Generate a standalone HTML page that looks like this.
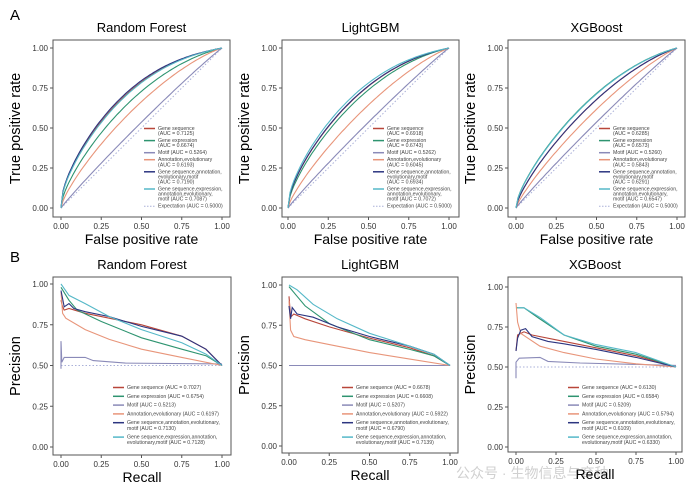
<!DOCTYPE html>
<html><head><meta charset="utf-8"><style>
html,body{margin:0;padding:0;background:#fff;}
svg{display:block;font-family:"Liberation Sans","Noto Sans CJK SC",sans-serif;}
</style></head><body>
<svg id="s" width="691" height="490" viewBox="0 0 691 490" xmlns="http://www.w3.org/2000/svg">
<rect width="691" height="490" fill="#fff"/>
<text x="10" y="20" font-size="15">A</text>
<text x="10" y="262" font-size="15">B</text>
<text x="456" y="478" font-size="14" fill="#d0d0d0">公众号 · 生物信息与育种</text>
</svg>
<script>
const S=document.getElementById('s');const NS='http://www.w3.org/2000/svg';
function el(t,a,txt){const e=document.createElementNS(NS,t);for(const k in a)e.setAttribute(k,a[k]);if(txt!==undefined)e.textContent=txt;S.appendChild(e);return e;}
const C={gs:'#b8463a',ge:'#2e9470',mo:'#8a8ab8',an:'#e8957a',nv:'#2c3580',cy:'#55b8c8',ex:'#aab0d8'};
function panel(p){
 const X=v=>p.x0+v*(p.x1-p.x0), Y=v=>p.y0-v*(p.y0-p.y1);
 el('rect',{x:p.bl,y:p.bt,width:p.br-p.bl,height:p.bb-p.bt,fill:'none',stroke:'#555','stroke-width':1});
 el('text',{x:(p.bl+p.br)/2,y:p.bt-8,'font-size':13,'text-anchor':'middle'},p.title);
 [0,.25,.5,.75,1].forEach(v=>{
  el('line',{x1:p.bl-3,x2:p.bl,y1:Y(v),y2:Y(v),stroke:'#555'});
  el('text',{x:p.bl-5,y:Y(v)+3,'font-size':8,'text-anchor':'end',fill:'#333'},v.toFixed(2));
  el('line',{x1:X(v),x2:X(v),y1:p.bb,y2:p.bb+3,stroke:'#555'});
  el('text',{x:X(v),y:p.bb+12,'font-size':8,'text-anchor':'middle',fill:'#333'},v.toFixed(2));
 });
 el('text',{x:(p.bl+p.br)/2,y:p.bb+27,'font-size':14,'text-anchor':'middle'},p.xl);
 const cy=(p.bt+p.bb)/2,cx=p.bl-33;
 el('text',{x:cx,y:cy,'font-size':14.5,'text-anchor':'middle',transform:`rotate(-90 ${cx} ${cy})`},p.yl);
 if(p.roc) el('line',{x1:X(0),y1:Y(0),x2:X(1),y2:Y(1),stroke:C.ex,'stroke-dasharray':'1.5,2'});
 else el('line',{x1:X(0),y1:Y(.5),x2:X(1),y2:Y(.5),stroke:C.ex,'stroke-dasharray':'1.5,2'});
 p.curves.forEach(c=>{
  let d='';
  if(c.auc!==undefined){const a=1/c.auc-1,k=c.auc/(1-c.auc);for(let i=0;i<=80;i++){const x=i/80;const y=0.5*Math.pow(x,a)+0.5*(1-Math.pow(1-x,k));d+=(i?'L':'M')+X(x).toFixed(1)+','+Y(y).toFixed(1);}}
  else c.pts.forEach((q,i)=>{d+=(i?'L':'M')+X(q[0]).toFixed(1)+','+Y(q[1]).toFixed(1);});
  el('path',{d,fill:'none',stroke:C[c.c],'stroke-width':1.1});
 });
 let y=p.ly;const lh=p.lh||5.6,g=p.gap||3.2;
 p.leg.forEach(l=>{
  el('line',{x1:p.lx,x2:p.lx+11,y1:y-1.5,y2:y-1.5,stroke:C[l[0]],'stroke-width':l[0]=='ex'?1:1.5,'stroke-dasharray':l[0]=='ex'?'1.5,1.5':''});
  l[1].forEach((t,i)=>{el('text',{x:p.lx+14,y:y+i*lh,'font-size':5.2,fill:'#444'},t);});
  y+=l[1].length*lh+g;
 });
}
const rocLeg=(v)=>[['gs',['Gene sequence','(AUC = '+v[0]+')']],['ge',['Gene expression','(AUC = '+v[1]+')']],['mo',['Motif (AUC = '+v[2]+')']],['an',['Annotation,evolutionary','(AUC = '+v[3]+')']],['nv',['Gene sequence,annotation,','evolutionary,motif','(AUC = '+v[4]+')']],['cy',['Gene sequence,expression,','annotation,evolutionary,','motif (AUC = '+v[5]+')']],['ex',['Expectation (AUC = 0.5000)']]];
const prLeg=(v)=>[['gs',['Gene sequence (AUC = '+v[0]+')']],['ge',['Gene expression (AUC = '+v[1]+')']],['mo',['Motif (AUC = '+v[2]+')']],['an',['Annotation,evolutionary (AUC = '+v[3]+')']],['nv',['Gene sequence,annotation,evolutionary,','motif (AUC = '+v[4]+')']],['cy',['Gene sequence,expression,annotation,','evolutionary,motif (AUC = '+v[5]+')']]];
const roc=(aucs)=>aucs.map((a,i)=>({c:['gs','ge','mo','an','nv','cy'][i],auc:a}));
const offs=[[53,61,222],[282,288,449],[508,516,677]];
const titles=['Random Forest','LightGBM','XGBoost'];
const rocA=[[.7125,.6674,.5264,.6193,.7190,.7087],[.6918,.6743,.5262,.6045,.6934,.7072],[.6285,.6573,.5260,.5843,.6291,.6547]];
for(let i=0;i<3;i++){
 const o=offs[i];
 panel({bl:o[0],br:o[0]+177,bt:40,bb:217,x0:o[1],x1:o[2],y1:48,y0:208,title:titles[i],xl:'False positive rate',yl:'True positive rate',roc:1,
  curves:roc(rocA[i]),lx:o[0]+91,ly:130,lh:5.1,gap:1.9,leg:rocLeg(rocA[i].map(v=>v.toFixed(4)))});
}
const prC=[
 {gs:[[0,.9],[.01,.86],[.02,.84],[.05,.85],[.15,.82],[.25,.8],[.5,.75],[.75,.68],[.9,.6],[1,.5]],
  ge:[[0,.98],[.05,.9],[.1,.84],[.25,.77],[.5,.67],[.75,.6],[.9,.56],[1,.5]],
  mo:[[0,.48],[0,.65],[.005,.52],[.02,.55],[.15,.55],[.2,.53],[.4,.515],[1,.51]],
  an:[[0,.95],[.01,.82],[.03,.79],[.15,.72],[.3,.66],[.5,.6],[.75,.55],[1,.5]],
  nv:[[0,.96],[.02,.86],[.05,.88],[.08,.85],[.15,.83],[.3,.8],[.5,.74],[.75,.68],[.9,.6],[1,.5]],
  cy:[[0,1],[.05,.93],[.15,.88],[.3,.8],[.5,.72],[.75,.64],[.9,.57],[1,.5]]},
 {gs:[[0,.93],[.01,.8],[.03,.82],[.1,.79],[.25,.74],[.5,.67],[.75,.61],[.9,.56],[1,.5]],
  ge:[[0,.99],[.05,.93],[.1,.87],[.25,.76],[.5,.66],[.75,.6],[.9,.56],[1,.5]],
  mo:[[0,.5],[1,.5]],
  an:[[0,.9],[.01,.72],[.03,.68],[.1,.66],[.25,.63],[.5,.58],[.75,.54],[1,.5]],
  nv:[[0,.87],[.01,.79],[.02,.86],[.05,.82],[.15,.8],[.3,.74],[.5,.68],[.75,.62],[.9,.57],[1,.5]],
  cy:[[0,1],[.05,.97],[.15,.88],[.3,.79],[.5,.7],[.75,.62],[.9,.57],[1,.5]]},
 {gs:[[0,.6],[.01,.7],[.05,.72],[.1,.7],[.25,.67],[.5,.62],[.75,.57],[1,.5]],
  ge:[[0,.87],[.05,.87],[.15,.8],[.3,.7],[.5,.63],[.75,.58],[1,.5]],
  mo:[[0,.43],[0,.53],[.02,.555],[.15,.56],[.2,.535],[.4,.525],[1,.51]],
  an:[[0,.9],[.01,.78],[.03,.71],[.15,.63],[.3,.59],[.5,.55],[.75,.52],[1,.5]],
  nv:[[0,.6],[.01,.68],[.03,.73],[.06,.74],[.1,.69],[.2,.66],[.3,.645],[.5,.61],[.75,.56],[1,.5]],
  cy:[[.01,.87],[.05,.87],[.15,.81],[.3,.7],[.5,.64],[.75,.59],[1,.5]]}];
const prA=[[.7027,.6754,.5213,.6197,.7130,.7128],[.6678,.6608,.5207,.5922,.6790,.7139],[.6130,.6584,.5209,.5794,.6109,.6330]];
const prBox=[[53,231,277,455,61,222,284,447],[282,458,277,453,289,450,285,446],[508,682,277,452,516,676,287,447]];
for(let i=0;i<3;i++){
 const b=prBox[i];
 const curves=['gs','ge','mo','an','nv','cy'].map(k=>({c:k,pts:prC[i][k]}));
 panel({bl:b[0],br:b[1],bt:b[2],bb:b[3],x0:b[4],x1:b[5],y1:b[6],y0:b[7],title:titles[i],xl:'Recall',yl:'Precision',roc:0,
  curves,lx:b[0]+60,ly:389,leg:prLeg(prA[i].map(v=>v.toFixed(4)))});
}
</script>
</body></html>
